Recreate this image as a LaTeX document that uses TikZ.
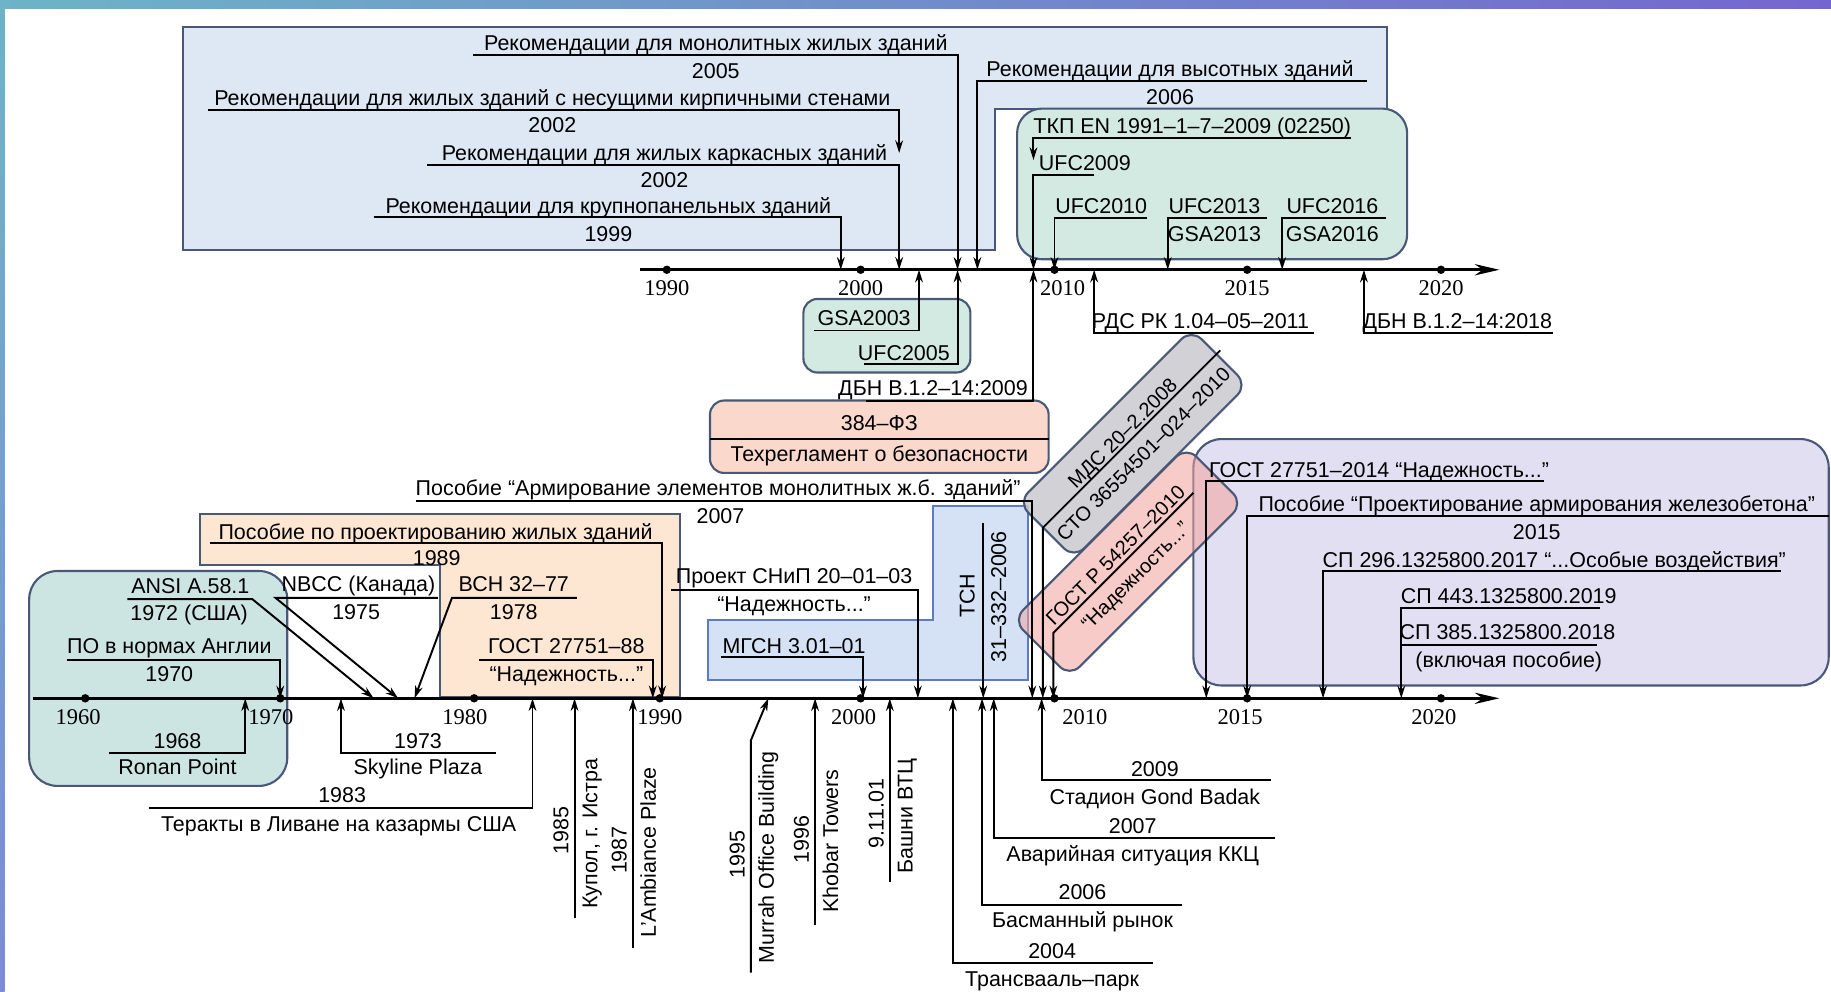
\documentclass[tikz,border=0pt]{standalone}
\usepackage{fontspec}
\setmainfont{Liberation Sans}
\newfontfamily\serifyr{Liberation Serif}
\usetikzlibrary{arrows.meta}

\definecolor{edge}{HTML}{4A5878}
\definecolor{bluefill}{HTML}{DEE7F4}
\definecolor{greenfill}{HTML}{D3EAE3}
\definecolor{tealfill}{HTML}{CDE5E2}
\definecolor{peachfill}{HTML}{FDE6D2}
\definecolor{salmonfill}{HTML}{FAD8CC}
\definecolor{tsnfill}{HTML}{D5E2F6}
\definecolor{tsnedge}{HTML}{5B7CC4}
\definecolor{grayfill}{HTML}{C9CACF}
\definecolor{lilacfill}{HTML}{E3DFF3}
\definecolor{rosefill}{HTML}{F2A39C}
\definecolor{bandL}{HTML}{6DB4C7}
\definecolor{bandR}{HTML}{7566CF}
\definecolor{stripB}{HTML}{7C8AD8}

\tikzset{
  lbl/.style={inner sep=0pt, font=\fontsize{6.1}{7}\selectfont, text height=4.4pt, text depth=0pt},
  rlbl/.style={lbl, font=\fontsize{5.7}{7}\selectfont, text height=4.1pt, rotate=45},
  yr/.style={inner sep=0pt, font=\serifyr\fontsize{6.4}{7}\selectfont, text height=4.4pt, text depth=0pt},
  lead/.style={line width=0.55pt, -{Stealth[length=3.6pt,width=2.2pt]}},
  seg/.style={line width=0.55pt},
  timeline/.style={line width=0.8pt, -{Stealth[length=7pt,width=3.2pt]}},
  panel/.style={draw=edge, line width=0.6pt},
}

\begin{document}
\begin{tikzpicture}[x=0.011677cm, y=-0.011677cm]
  \useasboundingbox (0,0) rectangle (1568,849);
  % frame
  \fill[white] (0,0) rectangle (1568,849);
  \shade[left color=bandL, right color=bandR] (0,0) rectangle (1568,7);
  \shade[top color=bandL, bottom color=stripB] (0,0) rectangle (4,849);

  % Draw the coloured panels
  \draw[panel, fill=bluefill] (157,23) -- (1188,23) -- (1188,93) -- (852,93)
      -- (852,214) -- (157,214) -- cycle;
  \draw[panel, fill=greenfill, rounded corners=7pt] (871,93) rectangle (1205,222);
  \draw[panel, fill=greenfill, rounded corners=4pt] (688,256) rectangle (831,319);
  \draw[panel, fill=salmonfill, rounded corners=4pt] (608,343) rectangle (898,405);
  \draw[panel, fill=peachfill] (171,440) -- (582,440) -- (582,597) -- (377,597)
      -- (377,484) -- (171,484) -- cycle;
  \draw[panel, fill=tealfill, rounded corners=8pt] (25,489) rectangle (246,673);
  \draw[draw=tsnedge, line width=0.6pt, fill=tsnfill] (606,531) -- (799,531) -- (799,433)
      -- (880,433) -- (880,582) -- (606,582) -- cycle;
  \draw[panel, fill=lilacfill, rounded corners=8pt] (1022,376) rectangle (1566,587);
  \node[panel, fill=grayfill, fill opacity=0.85, rounded corners=4pt, rotate=45,
      minimum width=2.45cm, minimum height=0.79cm] (mdsbox) at (970,380) {};
  \node[panel, fill=rosefill, fill opacity=0.55, rounded corners=4pt, rotate=45,
      minimum width=2.45cm, minimum height=0.8cm] (gostrbox) at (966,481) {};

  % Draw the two time axes
  \coordinate (ua) at (548,231);
  \coordinate (ub) at (1284,231);
  \coordinate (la) at (28,598);
  \coordinate (lb) at (1284,598);
  \draw[timeline] (ua) -- (ub);
  \draw[timeline] (la) -- (lb);
  \foreach \x in {571,737,903,1068,1234} \fill (\x,231) circle (1.2pt);
  \foreach \x in {73,240,406,565,737,903,1068,1234} \fill (\x,598) circle (1.2pt);
  \foreach \x/\t in {571/1990,737/2000,910/2010,1068/2015,1234/2020}
    \node[yr] (u\t) at (\x,246) {\t};
  \foreach \x/\t in {67/1960,232/1970,398/1980,565/1990,731/2000,929/2010,1062/2015,1228/2020}
    \node[yr] (l\t) at (\x,614) {\t};

  % upper block: recommendations
  \node[lbl] (recMono) at (613,37) {Рекомендации для монолитных жилых зданий};
  \node[lbl] (recMonoY) at (613,61) {2005};
  \draw[lead] (405,47) -| (820,231);
  \node[lbl] (recKirp) at (473,84) {Рекомендации для жилых зданий с несущими кирпичными стенами};
  \node[lbl] (recKirpY) at (473,107) {2002};
  \draw[lead] (178,94) -| (770,131);
  \node[lbl] (recKark) at (569,131) {Рекомендации для жилых каркасных зданий};
  \node[lbl] (recKarkY) at (569,154) {2002};
  \draw[lead] (366,141) -| (770,231);
  \node[lbl] (recPanel) at (521,176) {Рекомендации для крупнопанельных зданий};
  \node[lbl] (recPanelY) at (521,200) {1999};
  \draw[lead] (320,186) -| (720,231);
  \node[lbl] (recHigh) at (1002,59) {Рекомендации для высотных зданий};
  \node[lbl] (recHighY) at (1002,83) {2006};
  \draw[lead] (1171,69) -| (837,231);

  % upper block: foreign codes
  \node[lbl] (tkp) at (1021,108) {ТКП EN 1991–1–7–2009 (02250)};
  \draw[lead] (1157,118) -| (885,137);
  \node[lbl] (ufc09) at (929,139) {UFC2009};
  \draw[lead] (937,150) -| (885,231);
  \node[lbl] (ufc10) at (943,176) {UFC2010};
  \draw[lead] (982,187) -| (903,231);
  \node[lbl] (ufc13) at (1040,176) {UFC2013};
  \node[lbl] (gsa13) at (1040,200) {GSA2013};
  \draw[lead] (1085,187) -| (1000,231);
  \node[lbl] (ufc16) at (1141,176) {UFC2016};
  \node[lbl] (gsa16) at (1141,200) {GSA2016};
  \draw[lead] (1187,187) -| (1098,231);

  % below the upper axis
  \node[lbl] (gsa03) at (740,272) {GSA2003};
  \draw[lead] (697,283) -| (787,231);
  \node[lbl] (ufc05) at (774,302) {UFC2005};
  \draw[lead] (740,312) -| (820,231);
  \node[lbl] (dbn09) at (799,332) {ДБН В.1.2–14:2009};
  \draw[lead] (742,343) -| (885,231);
  \node[lbl] (rds) at (1028,275) {РДС РК 1.04–05–2011};
  \draw[lead] (1125,285) -| (937,231);
  \node[lbl] (dbn18) at (1248,275) {ДБН В.1.2–14:2018};
  \draw[lead] (1330,285) -| (1168,231);

  % middle
  \node[lbl] (fz384) at (753,362) {384–ФЗ};
  \draw[seg] (608,376) -- (898,376);
  \node[lbl] (fz384b) at (753,389) {Техрегламент о безопасности};
  \node[lbl] (posArm) at (615,418) {Пособие “Армирование элементов монолитных ж.б. зданий”};
  \node[lbl] (posArmY) at (617,442) {2007};
  \draw[lead] (356,429) -| (884,598);

  % rotated boxes
  \node[rlbl] (mds) at (961,371) {МДС 20–2.2008};
  \node[rlbl] (sto) at (979,389) {СТО 36554501–024–2010};
  \draw[lead] (1045,300) -- (893,452) -- (893,598);
  \node[rlbl] (gostR) at (955,475) {ГОСТ Р 54257–2010};
  \node[rlbl] (gostRb) at (972,493) {“Надежность...”};
  \draw[lead] (1022,422) -- (902,542) -- (902,598);

  % left green and peach panels
  \node[lbl] (posLiv) at (373,455) {Пособие по проектированию жилых зданий};
  \node[lbl] (posLivY) at (374,478) {1989};
  \draw[lead] (180,465) -| (567,598);
  \node[lbl] (gost88) at (485,553) {ГОСТ 27751–88};
  \node[lbl] (gost88b) at (485,577) {“Надежность...”};
  \draw[lead] (410,565) -| (559,598);
  \node[lbl] (vsn) at (440,500) {ВСН 32–77};
  \node[lbl] (vsnY) at (440,524) {1978};
  \draw[lead] (494,512) -- (387,512) -- (355,598);
  \node[lbl] (nbcc) at (307,500) {NBCC (Канада)};
  \node[lbl] (nbccY) at (305,524) {1975};
  \draw[lead] (375,512) -- (236,512) -- (341,598);
  \node[lbl] (ansi) at (163,502) {ANSI A.58.1};
  \node[lbl] (ansiY) at (162,525) {1972 (США)};
  \draw[lead] (109,513) -- (216,513) -- (320,598);
  \node[lbl] (poEng) at (145,553) {ПО в нормах Англии};
  \node[lbl] (poEngY) at (145,577) {1970};
  \draw[lead] (57,565) -| (240,598);

  % events below the lower axis
  \node[lbl] (ronanY) at (152,634) {1968};
  \node[lbl] (ronan) at (152,657) {Ronan Point};
  \draw[lead] (93,645) -| (210,598);
  \node[lbl] (skyY) at (358,634) {1973};
  \node[lbl] (sky) at (358,657) {Skyline Plaza};
  \draw[lead] (425,645) -| (292,598);
  \node[lbl] (libY) at (293,681) {1983};
  \node[lbl] (lib) at (290,705) {Теракты в Ливане на казармы США};
  \draw[lead] (128,692) -| (456,598);
  \node[lbl, rotate=90] (istraY) at (480,711) {1985};
  \node[lbl, rotate=90] (istra) at (505,714) {Купол, г. Истра};
  \draw[lead] (492,786) -- (492,598);
  \node[lbl, rotate=90] (ambY) at (530,728) {1987};
  \node[lbl, rotate=90] (amb) at (555,730) {L’Ambiance Plaze};
  \draw[lead] (542,812) -- (542,598);
  \node[lbl, rotate=90] (murY) at (631,732) {1995};
  \node[lbl, rotate=90] (mur) at (656,734) {Murrah Office Building};
  \draw[lead] (643,833) -- (643,634) -- (658,598);
  \node[lbl, rotate=90] (khoY) at (686,719) {1996};
  \node[lbl, rotate=90] (kho) at (711,720) {Khobar Towers};
  \draw[lead] (698,792) -- (698,598);
  \node[lbl, rotate=90] (wtcY) at (750,697) {9.11.01};
  \node[lbl, rotate=90] (wtc) at (775,699) {Башни ВТЦ};
  \draw[lead] (762,755) -- (762,598);

  % blue panel: snip, mgsn, tsn
  \node[lbl] (snip) at (680,493) {Проект СНиП 20–01–03};
  \node[lbl] (snipb) at (680,517) {“Надежность...”};
  \draw[lead] (575,505) -| (786,598);
  \node[lbl] (mgsn) at (680,553) {МГСН 3.01–01};
  \draw[lead] (617,563) -| (739,598);
  \node[lbl, rotate=90] (tsnA) at (828,510) {ТСН};
  \node[lbl, rotate=90] (tsnB) at (855,511) {31–332–2006};
  \draw[lead] (842,448) -- (842,598);

  % accidents after 2000
  \node[lbl] (badakY) at (989,658) {2009};
  \node[lbl] (badak) at (989,682) {Стадион Gond Badak};
  \draw[lead] (1088,668) -| (892,598);
  \node[lbl] (kkcY) at (970,707) {2007};
  \node[lbl] (kkc) at (970,731) {Аварийная ситуация ККЦ};
  \draw[lead] (1092,718) -| (851,598);
  \node[lbl] (basY) at (927,764) {2006};
  \node[lbl] (bas) at (927,788) {Басманный рынок};
  \draw[lead] (1012,775) -| (841,598);
  \node[lbl] (transY) at (901,814) {2004};
  \node[lbl] (trans) at (901,838) {Трансвааль–парк};
  \draw[lead] (987,825) -| (816,598);

  % lilac panel
  \node[lbl] (gost14) at (1181,402) {ГОСТ 27751–2014 “Надежность...”};
  \draw[lead] (1322,412) -| (1033,598);
  \node[lbl] (posZhb) at (1316,431) {Пособие “Проектирование армирования железобетона”};
  \node[lbl] (posZhbY) at (1316,455) {2015};
  \draw[lead] (1566,442) -| (1068,598);
  \node[lbl] (sp296) at (1331,479) {СП 296.1325800.2017 “...Особые воздействия”};
  \draw[lead] (1525,489) -| (1133,598);
  \node[lbl] (sp443) at (1292,510) {СП 443.1325800.2019};
  \draw[lead] (1370,521) -| (1200,598);
  \node[lbl] (sp385) at (1291,541) {СП 385.1325800.2018};
  \draw[seg] (1368,552) -- (1200,552);
  \node[lbl] (sp385b) at (1292,565) {(включая пособие)};
\end{tikzpicture}
\end{document}
